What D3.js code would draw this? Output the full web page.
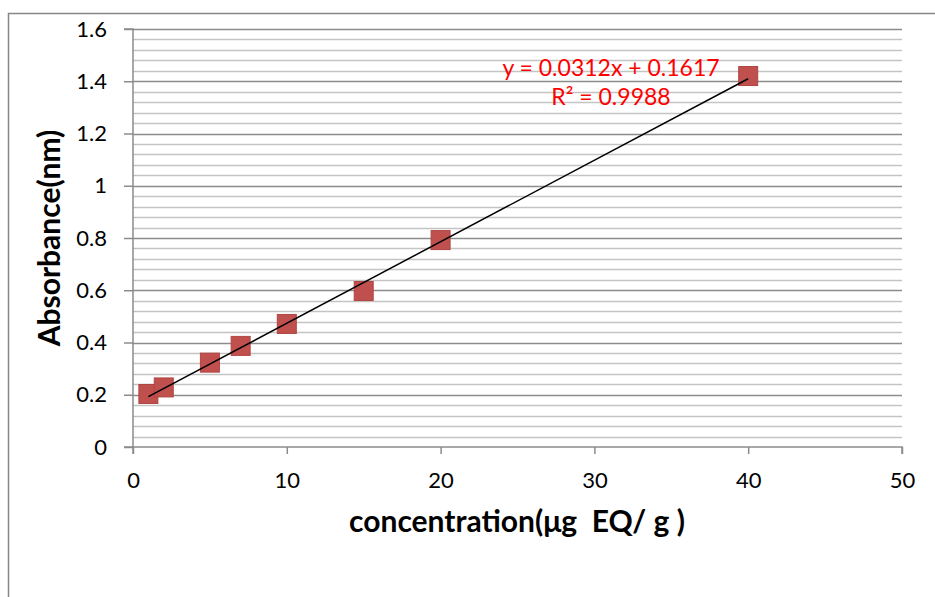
<!DOCTYPE html>
<html>
<head>
<meta charset="utf-8" />
<style>
html, body { margin: 0; padding: 0; background: #fff; }
svg { display: block; font-family: Lato, "Open Sans", sans-serif; }
</style>
</head>
<body>
<svg id="chart" width="935" height="597"></svg>
<script src="https://d3js.org/d3.v7.min.js"></script>
<script>
// data
var concentration = [1, 2, 5, 7, 10, 15, 20, 40];
var absorbance = [0.203, 0.228, 0.323, 0.387, 0.471, 0.597, 0.792, 1.42];
var xTicks = [0, 10, 20, 30, 40, 50];
var yTicks = [0, 0.2, 0.4, 0.6, 0.8, 1, 1.2, 1.4, 1.6];
var slope = 0.0312, intercept = 0.1617;
var eqLabel = "y = 0.0312x + 0.1617";
var r2Label = "R² = 0.9988";

var svg = d3.select("#chart");

// outer chart border
svg.append("rect")
	.attr("x", 8.5).attr("y", 13.5).attr("width", 940).attr("height", 600)
	.attr("fill", "none").attr("stroke", "#868686").attr("stroke-width", 1.5);

var x = d3.scaleLinear().domain([0, 50]).range([133, 902]);
var y = d3.scaleLinear().domain([0, 1.6]).range([447, 29]);

// minor gridlines
var minor = d3.range(0, 1.6001, 0.04).filter(function(v){ return Math.abs(v*5 - Math.round(v*5)) > 1e-6; });
svg.append("g").selectAll("line").data(minor).enter().append("line")
	.attr("x1", x(0)).attr("x2", x(50))
	.attr("y1", function(d){ return Math.round(y(d)) + 0.5; })
	.attr("y2", function(d){ return Math.round(y(d)) + 0.5; })
	.attr("stroke", "#c4c4c4").attr("stroke-width", 1.5);

// major gridlines
svg.append("g").selectAll("line").data(yTicks.slice(1)).enter().append("line")
	.attr("x1", x(0)).attr("x2", x(50))
	.attr("y1", function(d){ return Math.round(y(d)) + 0.5; })
	.attr("y2", function(d){ return Math.round(y(d)) + 0.5; })
	.attr("stroke", "#8c8c8c").attr("stroke-width", 1.5);

// axes
var yAxis = svg.append("g")
	.attr("transform", "translate(" + x(0) + ",0)")
	.call(d3.axisLeft(y).tickValues(yTicks).tickSize(9).tickPadding(17)
		.tickFormat(function(d){ return d3.format("")(+d.toFixed(1)); }));
var xAxis = svg.append("g")
	.attr("transform", "translate(0," + y(0) + ")")
	.call(d3.axisBottom(x).tickValues(xTicks).tickSize(7).tickPadding(18));

[xAxis, yAxis].forEach(function(a){
	a.select(".domain").attr("stroke", "#8c8c8c").attr("stroke-width", 1.5);
	a.selectAll(".tick line").attr("stroke", "#8c8c8c").attr("stroke-width", 1.5);
	a.selectAll("text").attr("font-size", 22).attr("fill", "#000")
		.attr("font-family", "Lato, 'Open Sans', sans-serif");
});
xAxis.select(".domain").attr("d", "M" + x(0) + ",7V0H" + x(50) + "V7");
yAxis.select(".domain").attr("d", "M-9," + y(1.6) + "H0V" + y(0) + "H-9");

// markers
svg.append("g").selectAll("rect").data(concentration).enter().append("rect")
	.attr("x", function(d){ return x(d) - 9.5; })
	.attr("y", function(d, i){ return y(absorbance[i]) - 9.5; })
	.attr("width", 19).attr("height", 19)
	.attr("fill", "#c0504d").attr("stroke", "#b04541").attr("stroke-width", 1);

// linear trendline
var tx = d3.extent(concentration);
svg.append("line")
	.attr("x1", x(tx[0])).attr("y1", y(slope*tx[0] + intercept))
	.attr("x2", x(tx[1])).attr("y2", y(slope*tx[1] + intercept))
	.attr("stroke", "#000").attr("stroke-width", 1.5);

// equation label
svg.append("text").attr("x", 611).attr("y", 76).attr("text-anchor", "middle")
	.attr("font-size", 23).attr("fill", "#ff0000").text(eqLabel);
svg.append("text").attr("x", 611).attr("y", 105).attr("text-anchor", "middle")
	.attr("font-size", 23).attr("fill", "#ff0000").text(r2Label);

// axis titles
svg.append("text")
	.attr("transform", "translate(60,238) rotate(-90)")
	.attr("text-anchor", "middle").attr("font-size", 30).attr("font-weight", "bold")
	.text("Absorbance(nm)");
svg.append("text").attr("x", 517).attr("y", 532).attr("text-anchor", "middle")
	.attr("font-size", 30).attr("font-weight", "bold")
	.attr("xml:space", "preserve").style("white-space", "pre")
	.text("concentration(μg  EQ/ g )");
</script>
</body>
</html>
